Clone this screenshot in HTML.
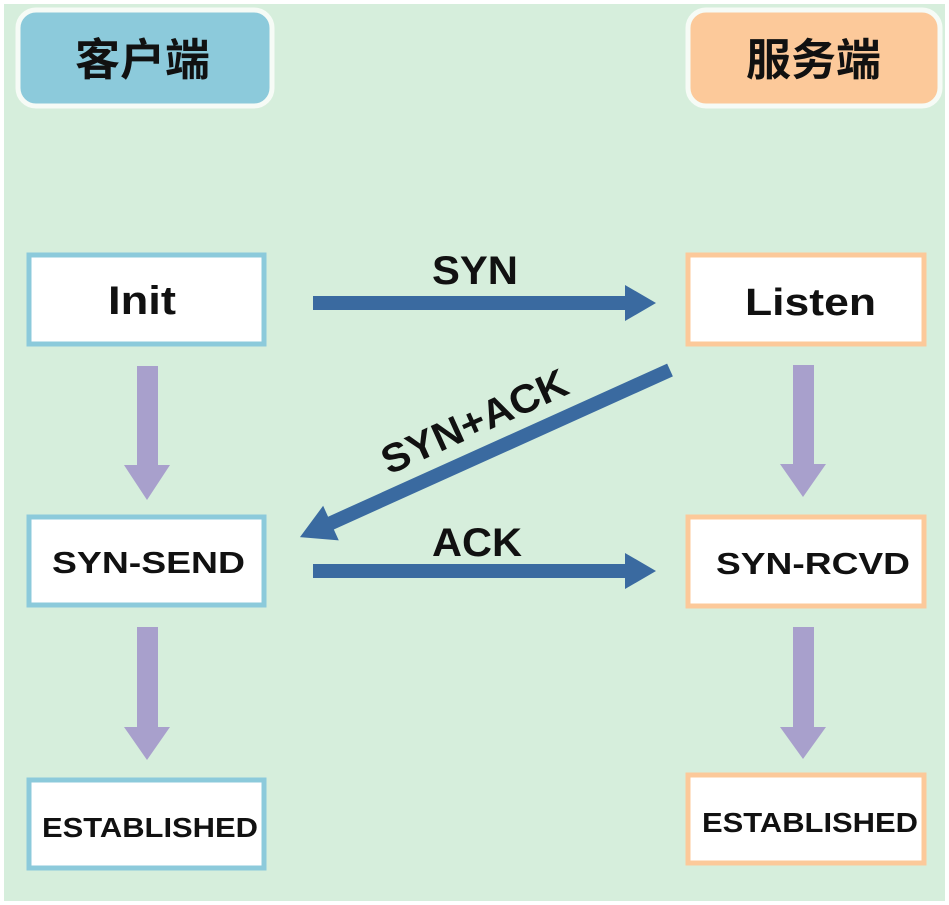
<!DOCTYPE html>
<html><head><meta charset="utf-8"><style>
html,body{margin:0;padding:0;background:#fff}
svg{display:block}
text{font-family:"Liberation Sans","Noto Sans CJK SC",sans-serif;fill:#111}
</style></head><body>
<svg width="949" height="905" viewBox="0 0 949 905" xmlns="http://www.w3.org/2000/svg">
<rect x="0" y="0" width="949" height="905" fill="#fff"/>
<rect x="4" y="4" width="941" height="897" fill="#d6eedc"/>
<rect x="18" y="10" width="254" height="96" rx="18" fill="#8ccadb" stroke="#f6fbf6" stroke-width="5"/>
<text x="75" y="75" font-size="44" font-weight="bold" textLength="135" lengthAdjust="spacingAndGlyphs">客户端</text>
<rect x="688" y="10" width="252" height="96" rx="18" fill="#fcc99a" stroke="#f6fbf6" stroke-width="5"/>
<text x="746" y="75" font-size="44" font-weight="bold" textLength="135" lengthAdjust="spacingAndGlyphs">服务端</text>
<g fill="#fff" stroke="#8ccadb" stroke-width="5">
<rect x="29" y="255" width="235" height="89"/>
<rect x="29" y="517" width="235" height="88"/>
<rect x="29" y="780" width="235" height="88"/>
</g>
<g fill="#fff" stroke="#fcc99a" stroke-width="5">
<rect x="688" y="255" width="236" height="89"/>
<rect x="688" y="517" width="236" height="89"/>
<rect x="688" y="775" width="236" height="88"/>
</g>
<g font-weight="bold" lengthAdjust="spacingAndGlyphs">
<text x="108" y="314" font-size="40" textLength="68" lengthAdjust="spacingAndGlyphs">Init</text>
<text x="52" y="573" font-size="31" textLength="193" lengthAdjust="spacingAndGlyphs">SYN-SEND</text>
<text x="42" y="837" font-size="28" textLength="216" lengthAdjust="spacingAndGlyphs">ESTABLISHED</text>
<text x="745" y="315" font-size="38" textLength="131" lengthAdjust="spacingAndGlyphs">Listen</text>
<text x="716" y="574" font-size="31" textLength="194" lengthAdjust="spacingAndGlyphs">SYN-RCVD</text>
<text x="702" y="832" font-size="28" textLength="216" lengthAdjust="spacingAndGlyphs">ESTABLISHED</text>
</g>
<g fill="#a8a0cc">
<polygon points="137,366 158,366 158,465 170,465 147,500 124,465 137,465"/>
<polygon points="137,627 158,627 158,727 170,727 147,760 124,727 137,727"/>
<polygon points="793,365 814,365 814,464 826,464 803,497 780,464 793,464"/>
<polygon points="793,627 814,627 814,727 826,727 803,759 780,727 793,727"/>
</g>
<g fill="#3a6aa0">
<polygon points="313,296 625,296 625,285 656,303 625,321 625,310 313,310"/>
<polygon points="313,564 625,564 625,553 656,571 625,589 625,578 313,578"/>
<g transform="translate(670,370) rotate(155.7)">
<polygon points="0,-7 372,-7 372,-19 406,0 372,19 372,7 0,7"/>
</g>
</g>
<g font-weight="bold">
<text x="432" y="284" font-size="40" textLength="86" lengthAdjust="spacingAndGlyphs">SYN</text>
<text x="432" y="556" font-size="40" textLength="90" lengthAdjust="spacingAndGlyphs">ACK</text>
<text x="0" y="0" font-size="40" text-anchor="middle" textLength="200" lengthAdjust="spacingAndGlyphs" transform="translate(480,434) rotate(-24.3)">SYN+ACK</text>
</g>
</svg>
</body></html>
